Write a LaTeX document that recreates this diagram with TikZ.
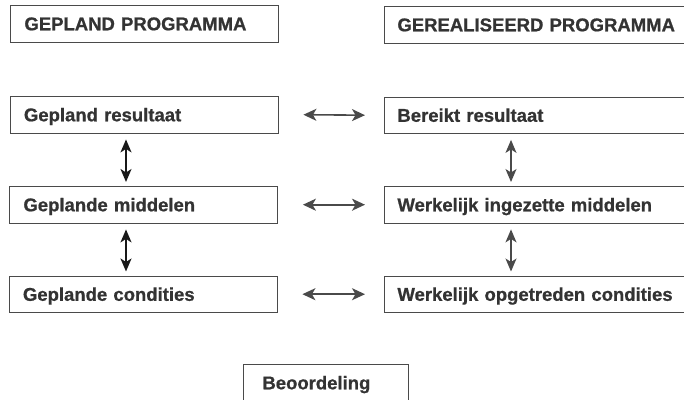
\documentclass[tikz,border=0pt]{standalone}
\usepackage{fontspec}
\setmainfont{Liberation Sans}
\newfontfamily\heavyfont{Liberation Sans Bold}[FakeBold=0.8]
\usetikzlibrary{arrows.meta}
\definecolor{inkc}{HTML}{333333}
\definecolor{linec}{HTML}{4A4A4A}
\tikzset{
  box/.style={draw=linec, line width=0.9pt, rectangle, anchor=north west,
    minimum height=36.5pt, inner ysep=0pt, align=left,
    text height=13.2pt, text depth=0pt, text=inkc,
    font=\heavyfont\fontsize{18.5}{20}\selectfont},
  lbox/.style={box, inner xsep=14pt, text width=240pt},
  rbox/.style={box, inner xsep=13pt, text width=290pt},
  harrow/.style={draw=linec, line width=1.6pt,
    {Stealth[length=13pt,width=12pt,inset=3.5pt]}-{Stealth[length=13pt,width=12pt,inset=3.5pt]}},
  varrowL/.style={draw=black!90, line width=1.8pt,
    {Stealth[length=13pt,width=11pt,inset=3.5pt]}-{Stealth[length=13pt,width=11pt,inset=3.5pt]}},
  varrowR/.style={draw=linec, line width=1.3pt,
    {Stealth[length=13pt,width=11pt,inset=3.5pt]}-{Stealth[length=13pt,width=11pt,inset=3.5pt]}}
}
\begin{document}
\begin{tikzpicture}[x=1pt,y=-1pt]
\useasboundingbox (0,0) rectangle (684,399);
\node[lbox] (lt) at (10,5) {GEPLAND PROGRAMMA};
\node[rbox] (rt) at (384,6) {GEREALISEERD PROGRAMMA};
\node[lbox] (l1) at (9.5,96) {Gepland resultaat};
\node[rbox] (r1) at (384,96.5) {Bereikt resultaat};
\node[lbox] (l2) at (9,186) {Geplande middelen};
\node[rbox] (r2) at (384,186) {Werkelijk ingezette middelen};
\node[lbox] (l3) at (8.5,275.5) {Geplande condities};
\node[rbox] (r3) at (384,275.5) {Werkelijk opgetreden condities};
\node[box, inner xsep=19pt, text width=127pt] (bo) at (243,364) {Beoordeling};
% horizontal arrows
\draw[harrow] ([xshift=25pt]l1.east) -- ([xshift=-19pt]r1.west);
\draw[harrow] ([xshift=25pt]l2.east) -- ([xshift=-19pt]r2.west);
\draw[harrow] ([xshift=25pt]l3.east) -- ([xshift=-19pt]r3.west);
% vertical arrows
\draw[varrowL] ([xshift=116.5pt,yshift=-6pt]l1.south west) -- ([xshift=117pt,yshift=4pt]l2.north west);
\draw[varrowL] ([xshift=117pt,yshift=-6pt]l2.south west) -- ([xshift=117.5pt,yshift=4pt]l3.north west);
\draw[varrowR] ([xshift=127pt,yshift=-6pt]r1.south west) -- ([xshift=127pt,yshift=4pt]r2.north west);
\draw[varrowR] ([xshift=127pt,yshift=-6pt]r2.south west) -- ([xshift=127pt,yshift=4pt]r3.north west);
\end{tikzpicture}
\end{document}
